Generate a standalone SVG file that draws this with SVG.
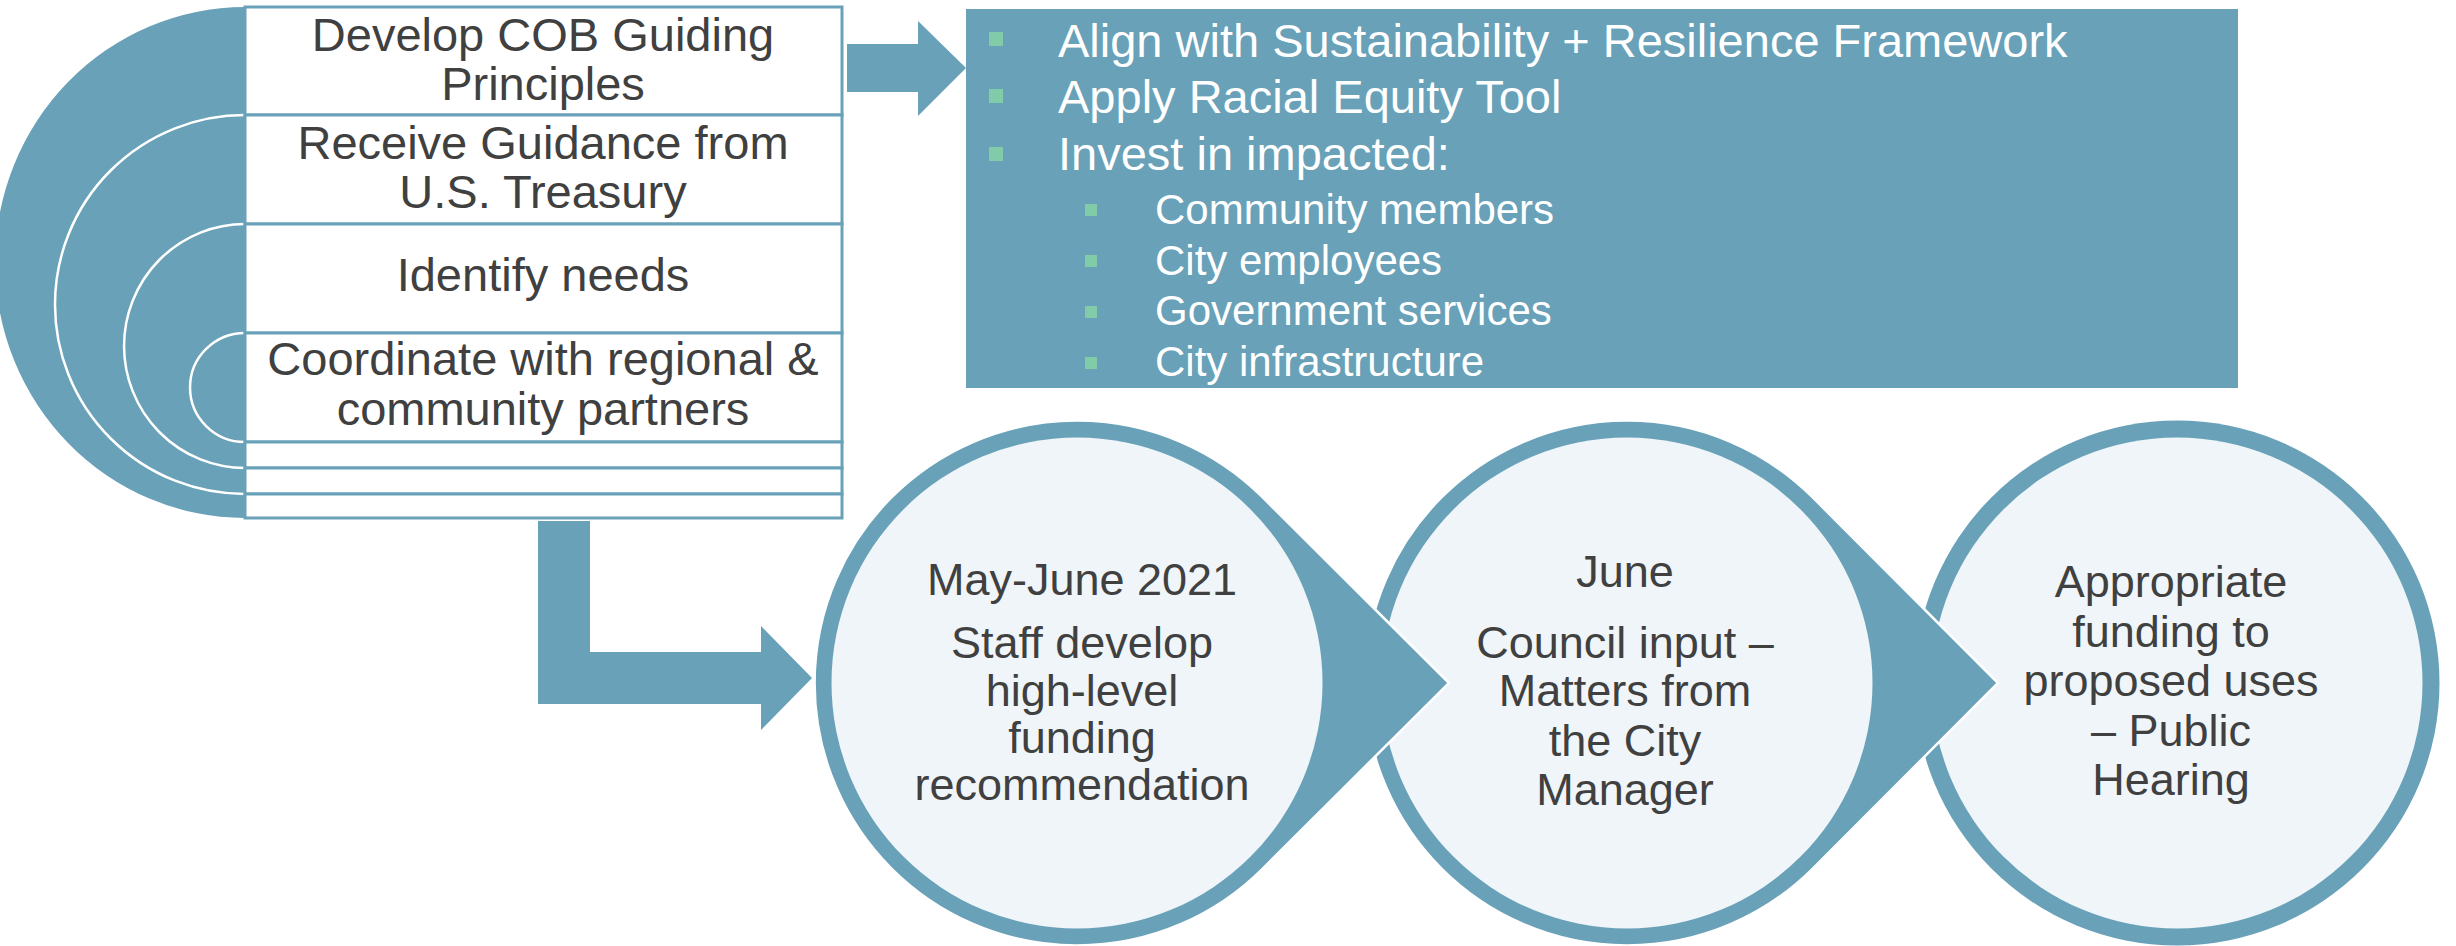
<svg xmlns="http://www.w3.org/2000/svg" width="2456" height="946" viewBox="0 0 2456 946">
<style>
.blue{fill:#68A1B8}
.arc{fill:none;stroke:#FFFFFF;stroke-width:2.5}
.row{fill:#FFFFFF;stroke:#68A1B8;stroke-width:3}
.bt{font-family:"Liberation Sans",Arial,sans-serif;font-size:47px;fill:#404040;text-anchor:middle}
.pt1{font-family:"Liberation Sans",Arial,sans-serif;font-size:47px;fill:#FFFFFF}
.pt2{font-family:"Liberation Sans",Arial,sans-serif;font-size:42px;fill:#FFFFFF}
.bul{fill:#82CBA8}
.ct{font-family:"Liberation Sans",Arial,sans-serif;font-size:45px;fill:#404040;text-anchor:middle}
.drop{fill:#68A1B8;stroke:#FFFFFF;stroke-width:2.5}
.inner{fill:#EFF5F8}
</style>
<g id="nested-target">
  <path class="blue" d="M245 7 A250 255.5 0 0 0 245 518 Z"/>
  <path class="arc" d="M245 115 A190 189.5 0 0 0 245 494"/>
  <path class="arc" d="M245 224 A121 122 0 0 0 245 468"/>
  <path class="arc" d="M245 333 A55 54.5 0 0 0 245 442"/>
</g>
<g id="steps-box">
  <rect class="row" x="245" y="7" width="597" height="108"/>
  <rect class="row" x="245" y="115" width="597" height="109"/>
  <rect class="row" x="245" y="224" width="597" height="109"/>
  <rect class="row" x="245" y="333" width="597" height="109"/>
  <rect class="row" x="245" y="442" width="597" height="26"/>
  <rect class="row" x="245" y="468" width="597" height="26"/>
  <rect class="row" x="245" y="494" width="597" height="24"/>
  <text class="bt" x="543" y="51">Develop COB Guiding</text>
  <text class="bt" x="543" y="100">Principles</text>
  <text class="bt" x="543" y="159">Receive Guidance from</text>
  <text class="bt" x="543" y="208">U.S. Treasury</text>
  <text class="bt" x="543" y="291">Identify needs</text>
  <text class="bt" x="543" y="375">Coordinate with regional &amp;</text>
  <text class="bt" x="543" y="425">community partners</text>
</g>
<g id="connectors">
  <path class="blue" d="M847 44 L918 44 L918 21 L966 68 L918 116 L918 92 L847 92 Z"/>
  <path class="blue" d="M538 521 L590 521 L590 652 L761 652 L761 626 L812 678 L761 730 L761 704 L538 704 Z"/>
</g>
<g id="principles-panel">
  <rect class="blue" x="966" y="9" width="1272" height="379"/>
  <rect class="bul" x="989" y="32" width="14" height="14"/>
  <rect class="bul" x="989" y="89" width="14" height="14"/>
  <rect class="bul" x="989" y="147" width="14" height="14"/>
  <rect class="bul" x="1085" y="204" width="12" height="12"/>
  <rect class="bul" x="1085" y="255" width="12" height="12"/>
  <rect class="bul" x="1085" y="306" width="12" height="12"/>
  <rect class="bul" x="1085" y="357" width="12" height="12"/>
  <text class="pt1" x="1058" y="57">Align with Sustainability + Resilience Framework</text>
  <text class="pt1" x="1058" y="113">Apply Racial Equity Tool</text>
  <text class="pt1" x="1058" y="170">Invest in impacted:</text>
  <text class="pt2" x="1155" y="224">Community members</text>
  <text class="pt2" x="1155" y="275">City employees</text>
  <text class="pt2" x="1155" y="325">Government services</text>
  <text class="pt2" x="1155" y="376">City infrastructure</text>
</g>
<g id="step-3">
  <circle class="blue" cx="2177" cy="683" r="262.5"/>
  <circle class="inner" cx="2177" cy="683" r="245.5"/>
  <text class="ct" x="2171" y="597">Appropriate</text>
  <text class="ct" x="2171" y="647">funding to</text>
  <text class="ct" x="2171" y="696">proposed uses</text>
  <text class="ct" x="2171" y="746">– Public</text>
  <text class="ct" x="2171" y="795">Hearing</text>
</g>
<g id="step-2">
  <path class="drop" d="M1998 683 L1812 496.7 A262.5 262.5 0 1 0 1812 869.3 Z"/>
  <circle class="inner" cx="1627" cy="683" r="245.5"/>
  <text class="ct" x="1625" y="587">June</text>
  <text class="ct" x="1625" y="658">Council input –</text>
  <text class="ct" x="1625" y="706">Matters from</text>
  <text class="ct" x="1625" y="756">the City</text>
  <text class="ct" x="1625" y="805">Manager</text>
</g>
<g id="step-1">
  <path class="drop" d="M1449 683 L1262 496.7 A262.5 262.5 0 1 0 1262 869.3 Z"/>
  <circle class="inner" cx="1077" cy="683" r="245.5"/>
  <text class="ct" x="1082" y="595">May-June 2021</text>
  <text class="ct" x="1082" y="658">Staff develop</text>
  <text class="ct" x="1082" y="706">high-level</text>
  <text class="ct" x="1082" y="753">funding</text>
  <text class="ct" x="1082" y="800">recommendation</text>
</g>
</svg>
